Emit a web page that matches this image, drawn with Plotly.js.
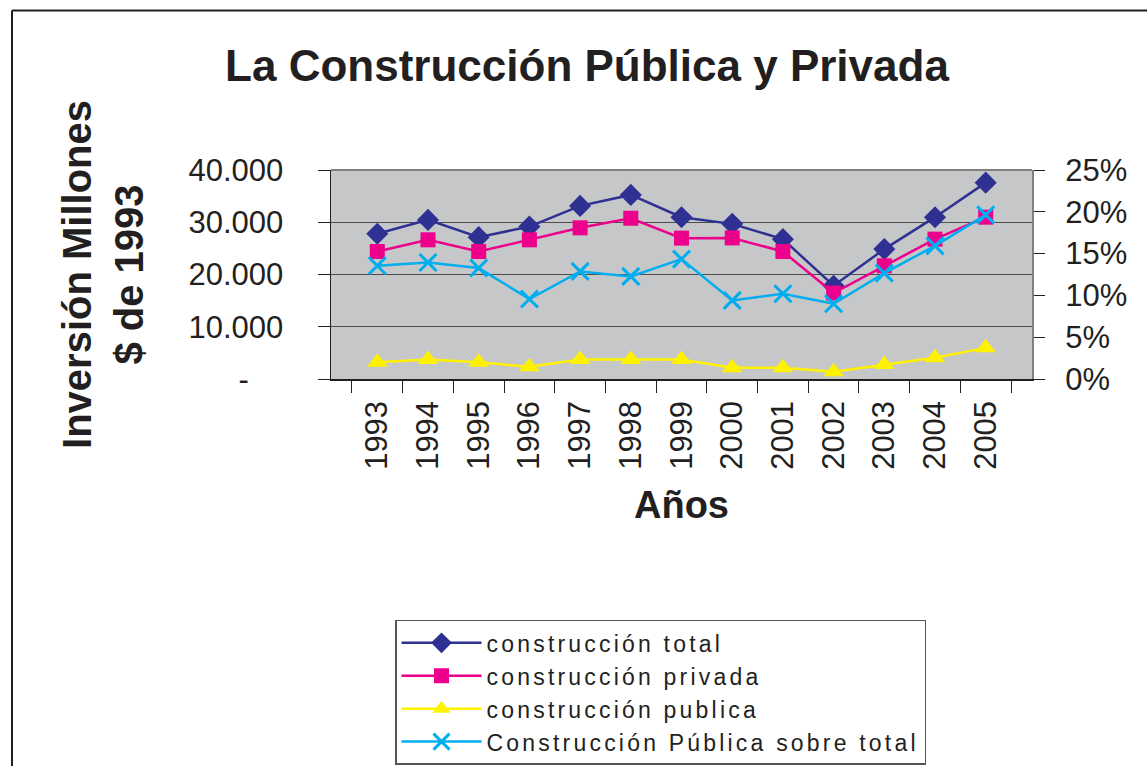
<!DOCTYPE html>
<html>
<head>
<meta charset="utf-8">
<script src="https://cdn.plot.ly/plotly-3.0.1.min.js"></script>
<style>
html,body{margin:0;padding:0;background:#fff;overflow:hidden;}
#chart{width:1147px;height:766px;}
.legendtext{letter-spacing:3.2px;}
</style>
</head>
<body>
<div id="chart"></div>
<script>
const years = ["1993","1994","1995","1996","1997","1998","1999","2000","2001","2002","2003","2004","2005"];
const total   = [27800, 30450, 27150, 29170, 33130, 35230, 30970, 29690, 26770, 17850, 24860, 30970, 37580];
const privada = [24400, 26640, 24400, 26640, 28930, 30770, 26960, 27000, 24400, 16460, 21670, 26770, 30970];
const publica = [3210, 3720, 3210, 2330, 3720, 3720, 3720, 2140, 2140, 1370, 2770, 4050, 5960];
const pctPublica = [0.1354, 0.1394, 0.1327, 0.0957, 0.1287, 0.1227, 0.1434, 0.0940, 0.1020, 0.0900, 0.1267, 0.1593, 0.1963];
const leftTickVals = [0, 10000, 20000, 30000, 40000];
const leftTickText = ["-\u00a0\u00a0\u00a0\u00a0", "10.000", "20.000", "30.000", "40.000"];
const seriesNames = ["construcción total", "construcción privada", "construcción publica", "Construcción Pública sobre total"];

const FONT = "Liberation Sans, Arial, sans-serif";
const W = 1147, H = 766;
const L = 331, R = 1032, T = 170, B = 379.5;
const px = v => (v - L) / (R - L);
const py = v => (B - v) / (B - T);

const traces = [
  {x: years, y: total, name: seriesNames[0], type: "scatter", mode: "lines+markers",
   line: {color: "#2e3192", width: 2.5}, marker: {symbol: "diamond", size: 17, color: "#2e3192"}},
  {x: years, y: privada, name: seriesNames[1], type: "scatter", mode: "lines+markers",
   line: {color: "#ec008c", width: 2.5}, marker: {symbol: "square", size: 15, color: "#ec008c"}},
  {x: years, y: publica, name: seriesNames[2], type: "scatter", mode: "lines+markers",
   line: {color: "#fff200", width: 2.5}, marker: {symbol: "triangle-up", size: 18, color: "#fff200"}},
  {x: years, y: pctPublica, name: seriesNames[3], type: "scatter", mode: "lines+markers", yaxis: "y2",
   line: {color: "#00aeef", width: 2.5}, marker: {symbol: "x-thin", size: 17, color: "#00aeef", line: {color: "#00aeef", width: 3}}}
];

const layout = {
  width: W, height: H,
  margin: {l: L, r: W - R, t: T, b: H - B, pad: 0, autoexpand: false},
  paper_bgcolor: "#ffffff",
  plot_bgcolor: "#c6c7c9",
  font: {family: FONT, color: "#231f20"},
  showlegend: true,
  title: {text: "<b>La Construcción Pública y Privada</b>", font: {family: FONT, size: 44, color: "#231f20"},
          xref: "container", yref: "container", x: 587 / W, y: 1 - 66 / H, xanchor: "center", yanchor: "middle"},
  xaxis: {
    type: "category", tickangle: -90, tickfont: {size: 31, family: FONT, color: "#231f20"},
    ticks: "outside", ticklen: 12, tickcolor: "#231f20", tickson: "boundaries", ticklabelstandoff: 8,
    showline: true, linecolor: "#231f20", linewidth: 1.5, mirror: false, showgrid: false, zeroline: false,
    title: {text: "<b>Años</b>", font: {size: 38, family: FONT, color: "#231f20"}, standoff: 22},
    automargin: false
  },
  yaxis: {
    range: [0, 40000], tickvals: leftTickVals, ticktext: leftTickText,
    tickfont: {size: 31, family: FONT, color: "#231f20"},
    ticks: "outside", ticklen: 12, tickcolor: "#231f20", ticklabelstandoff: 28,
    showline: true, linecolor: "#231f20", linewidth: 1.5,
    showgrid: true, gridcolor: "#4d4d4d", gridwidth: 1, zeroline: false,
    title: {text: "<b>Inversión Millones<br>$ de 1993</b>", font: {size: 40, family: FONT, color: "#231f20"}, standoff: 32},
    automargin: false
  },
  yaxis2: {
    overlaying: "y", side: "right", range: [0, 0.25], dtick: 0.05, tickformat: ".0%",
    tickfont: {size: 31, family: FONT, color: "#231f20"},
    ticks: "outside", ticklen: 11, tickcolor: "#231f20", ticklabelstandoff: 14,
    showline: true, linecolor: "#808080", linewidth: 2, showgrid: false, zeroline: false,
    automargin: false
  },
  legend: {
    x: px(395), y: py(621), xanchor: "left", yanchor: "top",
    bgcolor: "#ffffff", bordercolor: "#555555", borderwidth: 1.5,
    font: {size: 23, family: FONT, color: "#231f20"},
    itemwidth: 80, tracegroupgap: 0, traceorder: "normal"
  },
  shapes: [
    {type: "line", xref: "paper", yref: "paper", x0: px(12), x1: px(12), y0: py(10), y1: py(770), line: {color: "#231f20", width: 2}},
    {type: "line", xref: "paper", yref: "paper", x0: px(12), x1: px(1150), y0: py(10), y1: py(10), line: {color: "#231f20", width: 2}},
    {type: "line", xref: "paper", yref: "paper", x0: 0, x1: 1, y0: 1, y1: 1, line: {color: "#808080", width: 2}}
  ]
};

Plotly.newPlot("chart", traces, layout, {displayModeBar: false, staticPlot: true});
</script>
</body>
</html>
